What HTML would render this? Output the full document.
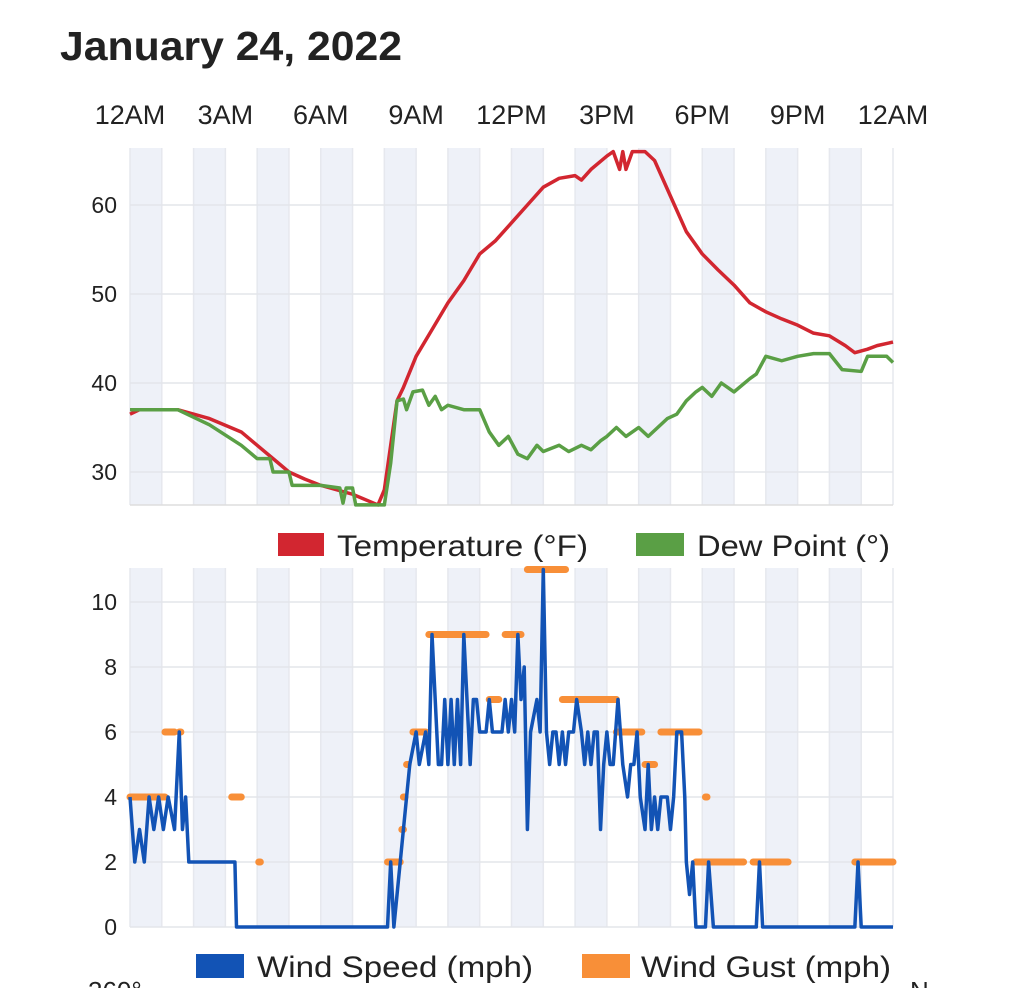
<!DOCTYPE html>
<html><head><meta charset="utf-8"><style>
body{margin:0;background:#fff;width:1024px;height:988px;overflow:hidden;font-family:"Liberation Sans",sans-serif}
</style></head><body>
<svg id="s" width="1024" height="988" xmlns="http://www.w3.org/2000/svg" font-family="Liberation Sans, sans-serif">
<text x="60" y="60" font-size="41" font-weight="bold" fill="#222" textLength="342" lengthAdjust="spacingAndGlyphs">January 24, 2022</text>
</svg>
<script>
const s=document.getElementById('s');const NS='http://www.w3.org/2000/svg';
function el(t,a,txt){const e=document.createElementNS(NS,t);for(const k in a)e.setAttribute(k,a[k]);if(txt!==undefined)e.textContent=txt;s.appendChild(e);return e;}
const X0=130,XW=763,px=h=>X0+h*XW/24;
['12AM','3AM','6AM','9AM','12PM','3PM','6PM','9PM','12AM'].forEach((l,i)=>el('text',{x:px(i*3),y:124,'font-size':27,'text-anchor':'middle',fill:'#222'},l));
function panel(y0,y1){
 for(let h=0;h<24;h+=2)el('rect',{x:px(h),y:y0,width:XW/24,height:y1-y0,fill:'#eef1f8'});
 for(let h=0;h<=24;h++)el('line',{x1:px(h),x2:px(h),y1:y0,y2:y1,stroke:'#e6e8ee','stroke-width':1.5});
}
const T0=148,T1=505,ty=v=>205+(60-v)*8.9;
panel(T0,T1);
[60,50,40,30].forEach(v=>{el('line',{x1:X0,x2:X0+XW,y1:ty(v),y2:ty(v),stroke:'#e3e5ea','stroke-width':1.5});el('text',{x:117,y:ty(v)+8,'font-size':23,'text-anchor':'end',fill:'#222'},v)});
el('line',{x1:X0,x2:X0+XW,y1:T1,y2:T1,stroke:'#ddd','stroke-width':1.5});
function line(d,fy,col,w){el('polyline',{points:d.map(p=>px(p[0])+','+fy(p[1])).join(' '),fill:'none',stroke:col,'stroke-width':w,'stroke-linejoin':'round'});}
const temp=[[0,36.5],[0.3,37],[1.5,37],[2.5,36],[3.5,34.5],[4,33],[4.5,31.5],[5,30],[5.5,29.2],[6,28.5],[7,27.5],[7.8,26.3],[8,28],[8.2,33],[8.4,38],[8.6,39.5],[9,43],[9.5,46],[10,49],[10.5,51.5],[11,54.5],[11.5,56],[12,58],[12.5,60],[13,62],[13.5,63],[14,63.3],[14.2,62.8],[14.5,64],[15,65.5],[15.2,66],[15.4,64],[15.5,66],[15.6,64],[15.8,66],[16.2,66],[16.5,65],[17,61],[17.5,57],[18,54.5],[18.5,52.7],[19,51],[19.5,49],[20,48],[20.5,47.2],[21,46.5],[21.5,45.6],[22,45.3],[22.5,44.2],[22.8,43.4],[23.2,43.8],[23.5,44.2],[24,44.6]];
const dew=[[0,37],[1.5,37],[2.5,35.3],[3.5,33],[4,31.5],[4.4,31.5],[4.5,30],[5,30],[5.1,28.5],[6,28.5],[6.6,28.2],[6.7,26.5],[6.8,28.2],[7,28.2],[7.1,26.3],[8,26.3],[8.2,31],[8.4,38],[8.6,38.2],[8.7,37],[8.9,39],[9.2,39.2],[9.4,37.5],[9.6,38.5],[9.8,37],[10,37.5],[10.5,37],[11,37],[11.3,34.5],[11.6,33],[11.9,34],[12.2,32],[12.5,31.5],[12.8,33],[13,32.3],[13.5,33],[13.8,32.3],[14.2,33],[14.5,32.5],[14.8,33.5],[15,34],[15.3,35],[15.6,34],[16,35],[16.3,34],[16.6,35],[16.9,36],[17.2,36.5],[17.5,38],[17.8,39],[18,39.5],[18.3,38.5],[18.6,40],[19,39],[19.5,40.5],[19.7,41],[20,43],[20.5,42.5],[21,43],[21.5,43.3],[22,43.3],[22.4,41.5],[23,41.3],[23.2,43],[23.8,43],[24,42.3]];
line(temp,ty,'#d22630',3.5);line(dew,ty,'#5a9f45',3.5);
el('rect',{x:278,y:533,width:46,height:23,fill:'#d22630'});el('text',{x:337,y:556,'font-size':30,fill:'#222',textLength:251,lengthAdjust:'spacingAndGlyphs'},'Temperature (°F)');
el('rect',{x:636,y:533,width:48,height:23,fill:'#5a9f45'});el('text',{x:697,y:556,'font-size':30,fill:'#222',textLength:193,lengthAdjust:'spacingAndGlyphs'},'Dew Point (°)');
const B0=568,B1=927,by=v=>927-v*32.5;
panel(B0,B1);
[0,2,4,6,8,10].forEach(v=>{el('line',{x1:X0,x2:X0+XW,y1:by(v),y2:by(v),stroke:'#e3e5ea','stroke-width':1.5});el('text',{x:117,y:by(v)+8,'font-size':23,'text-anchor':'end',fill:'#222'},v)});
const gust=[[0,1.1,4],[1.1,1.4,6],[1.55,1.6,6],[3.2,3.5,4],[4.05,4.1,2],[8.1,8.5,2],[8.55,8.6,3],[8.6,8.65,4],[8.7,8.75,5],[8.9,9.3,6],[9.4,11.2,9],[11.8,12.3,9],[11.3,11.6,7],[12.5,13.7,11],[13.6,15.3,7],[15.3,16.1,6],[16.2,16.5,5],[16.7,17.9,6],[18.1,18.15,4],[17.8,19.3,2],[19.6,20.7,2],[22.8,24,2]];
const wind=[[0,4],[0.15,2],[0.3,3],[0.45,2],[0.6,4],[0.75,3],[0.9,4],[1.05,3],[1.2,4],[1.4,3],[1.55,6],[1.65,3],[1.75,4],[1.85,2],[3.3,2],[3.35,0],[8.1,0],[8.2,2],[8.3,0],[8.5,2],[8.8,5],[9.0,6],[9.1,5],[9.3,6],[9.4,5],[9.5,9],[9.7,5],[9.8,5],[9.9,7],[10.0,5],[10.1,7],[10.2,5],[10.3,7],[10.4,5],[10.5,9],[10.7,5],[10.8,7],[10.9,7],[11.0,6],[11.2,6],[11.3,7],[11.4,6],[11.5,6],[11.7,6],[11.8,7],[11.9,6],[12.0,7],[12.1,6],[12.2,9],[12.3,7],[12.4,8],[12.5,3],[12.6,6],[12.8,7],[12.9,6],[13.0,11],[13.1,6],[13.2,5],[13.3,6],[13.4,6],[13.5,5],[13.6,6],[13.7,5],[13.8,6],[13.95,6],[14.05,7],[14.2,6],[14.3,5],[14.4,6],[14.5,5],[14.6,6],[14.7,6],[14.8,3],[14.9,5],[15.0,6],[15.1,5],[15.2,5],[15.35,7],[15.5,5],[15.65,4],[15.75,5],[15.85,5],[15.95,6],[16.05,4],[16.2,3],[16.3,5],[16.4,3],[16.5,4],[16.6,3],[16.7,4],[16.9,4],[17.0,3],[17.1,4],[17.2,6],[17.35,6],[17.45,4],[17.5,2],[17.6,1],[17.7,2],[17.8,0],[18.1,0],[18.2,2],[18.35,0],[19.7,0],[19.8,2],[19.9,0],[22.8,0],[22.9,2],[23.0,0],[24,0]];
gust.forEach(g=>el('line',{x1:px(g[0]),x2:px(g[1]),y1:by(g[2]),y2:by(g[2]),stroke:'#f88f38','stroke-width':7,'stroke-linecap':'round'}));
line(wind,by,'#1253b5',3.5);
el('rect',{x:196,y:954,width:48,height:24,fill:'#1253b5'});el('text',{x:257,y:977,'font-size':30,fill:'#222',textLength:276,lengthAdjust:'spacingAndGlyphs'},'Wind Speed (mph)');
el('rect',{x:582,y:954,width:48,height:24,fill:'#f88f38'});el('text',{x:641,y:977,'font-size':30,fill:'#222',textLength:250,lengthAdjust:'spacingAndGlyphs'},'Wind Gust (mph)');
el('text',{x:88,y:1000,'font-size':26,fill:'#222'},'360°');el('text',{x:910,y:1000,'font-size':26,fill:'#222'},'N');
</script>
</body></html>
